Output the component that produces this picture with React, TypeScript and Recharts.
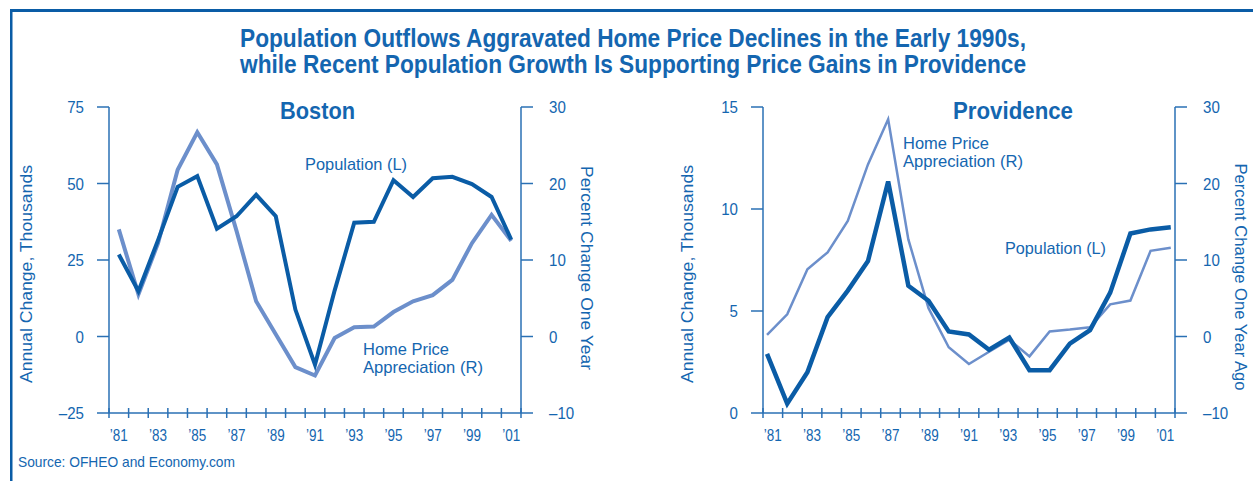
import React from "react";
import { LineChart, Line, XAxis, YAxis } from "recharts";

const FONT = "'Liberation Sans', Arial, Helvetica, sans-serif";
const TEXT = "#1466b0";
const AXIS = "#2a70b4";
const DARK = "#0a5ca6";
const LIGHT = "#6c8fcb";

// annual values, one per year '81 .. '01
const years = [1981, 1982, 1983, 1984, 1985, 1986, 1987, 1988, 1989, 1990, 1991, 1992, 1993, 1994, 1995, 1996, 1997, 1998, 1999, 2000, 2001];
const yearTicks = [1981, 1982, 1983, 1984, 1985, 1986, 1987, 1988, 1989, 1990, 1991, 1992, 1993, 1994, 1995, 1996, 1997, 1998, 1999, 2000, 2001, 2002];

// Boston: population change (thousands, left) and home price appreciation (%, right)
const bostonPopulation = [26.8, 14.8, 31.5, 48.9, 52.4, 35.2, 39.3, 46.3, 39.3, 8.8, -9.2, 15.0, 37.2, 37.5, 51.1, 45.6, 51.7, 52.2, 49.8, 45.6, 31.7];
const bostonHomePrice = [14.0, 5.5, 12.2, 21.8, 26.7, 22.5, 13.8, 4.6, 0.3, -4.0, -5.1, -0.2, 1.2, 1.3, 3.2, 4.6, 5.4, 7.4, 12.2, 15.9, 12.5];

// Providence
const provPopulation = [2.9, 0.46, 2.0, 4.7, 6.0, 7.45, 11.35, 6.24, 5.5, 4.0, 3.85, 3.1, 3.7, 2.1, 2.1, 3.4, 4.06, 5.9, 8.8, 9.0, 9.1];
const provHomePrice = [0.2, 2.9, 8.8, 11.0, 15.1, 22.5, 28.4, 12.7, 3.7, -1.4, -3.6, -2.0, -0.4, -2.6, 0.66, 0.9, 1.2, 4.2, 4.7, 11.2, 11.6];

const bostonLeftTicks = [-25, 0, 25, 50, 75];
const provLeftTicks = [0, 5, 10, 15];
const rightTicks = [-10, 0, 10, 20, 30];

const bostonData = years.map((year, i) => ({ year, population: bostonPopulation[i], homePrice: bostonHomePrice[i] }));
const provData = years.map((year, i) => ({ year, population: provPopulation[i], homePrice: provHomePrice[i] }));

const fmt = (v: number) => (v < 0 ? "\u2013" + Math.abs(v) : String(v));

function YearTick(props: any) {
  const { x, y, payload, step } = props;
  const yr = payload.value as number;
  return (
    <g>
      <line x1={x} x2={x} y1={y - 5} y2={y + 5} stroke={AXIS} strokeWidth={1.5} />
      {yr % 2 === 1 && yr < 2002 ? (
        <text x={x + step / 2} y={y + 28} textAnchor="middle" fill={TEXT} fontSize={17} fontFamily={FONT} textLength={18} lengthAdjust="spacingAndGlyphs">
          {"\u2019" + String(yr).slice(2)}
        </text>
      ) : null}
    </g>
  );
}

function ValueTick(props: any) {
  const { x, y, payload, textAnchor } = props;
  const label = fmt(payload.value);
  return (
    <text x={x} y={y} dy="0.36em" textAnchor={textAnchor} fill={TEXT} fontSize={17} fontFamily={FONT} textLength={label.length * 8.4} lengthAdjust="spacingAndGlyphs">
      {label}
    </text>
  );
}

interface PanelProps {
  data: any[];
  width: number;
  left: number;
  leftTicks: number[];
  dataDomain: [number, number];
  popWidth: number;
  priceWidth: number;
}

function Panel({ data, width, left, leftTicks, dataDomain, popWidth, priceWidth }: PanelProps) {
  // axes take 1px each, so margins are one less than the plot edges
  const margin = { top: 107, left: left - 1, right: width - left - 412 - 1, bottom: 67 };
  const step = 412 / 21;
  return (
    <LineChart width={width} height={481} data={data} margin={margin}>
      <XAxis
        xAxisId="frame"
        dataKey="year"
        type="number"
        domain={[1981, 2002]}
        ticks={yearTicks}
        interval={0}
        allowDataOverflow
        height={1}
        tickSize={0}
        tickMargin={0}
        tickLine={false}
        axisLine={{ stroke: AXIS, strokeWidth: 1.5 }}
        tick={(p: any) => <YearTick {...p} step={step} />}
      />
      <XAxis xAxisId="data" orientation="top" height={0} dataKey="year" type="number" domain={dataDomain} allowDataOverflow hide />
      <YAxis
        yAxisId="L"
        width={1}
        domain={[leftTicks[0], leftTicks[leftTicks.length - 1]]}
        ticks={leftTicks}
        interval={0}
        allowDataOverflow
        tickSize={12}
        tickMargin={13}
        tick={(p: any) => <ValueTick {...p} />}
        tickLine={{ stroke: AXIS, strokeWidth: 1.5 }}
        axisLine={{ stroke: AXIS, strokeWidth: 1.5 }}
      />
      <YAxis
        yAxisId="R"
        orientation="right"
        width={1}
        domain={[-10, 30]}
        ticks={rightTicks}
        interval={0}
        allowDataOverflow
        tickSize={12}
        tickMargin={16}
        tick={(p: any) => <ValueTick {...p} />}
        tickLine={{ stroke: AXIS, strokeWidth: 1.5 }}
        axisLine={{ stroke: AXIS, strokeWidth: 1.5 }}
      />
      <Line xAxisId="data" yAxisId="R" dataKey="homePrice" stroke={LIGHT} strokeWidth={priceWidth} dot={false} isAnimationActive={false} />
      <Line xAxisId="data" yAxisId="L" dataKey="population" stroke={DARK} strokeWidth={popWidth} dot={false} isAnimationActive={false} />
    </LineChart>
  );
}

function T({ x, y, w, size, children, bold, rotate }: any) {
  return (
    <text
      x={x}
      y={y}
      textLength={w}
      lengthAdjust="spacingAndGlyphs"
      fontSize={size}
      fontWeight={bold ? 700 : 400}
      fontFamily={FONT}
      fill={TEXT}
      textAnchor={rotate ? "middle" : "start"}
      transform={rotate ? `rotate(${rotate} ${x} ${y})` : undefined}
    >
      {children}
    </text>
  );
}

export default function App() {
  return (
    <div style={{ position: "absolute", left: 0, top: 0, width: 1253, height: 481, background: "#fff", overflow: "hidden" }}>
      <div style={{ position: "absolute", left: 0, top: 0 }}>
        <Panel data={bostonData} width={640} left={109} leftTicks={bostonLeftTicks} dataDomain={[1980.5, 2001.5]} popWidth={4} priceWidth={4} />
      </div>
      <div style={{ position: "absolute", left: 640, top: 0 }}>
        <Panel data={provData} width={613} left={123} leftTicks={provLeftTicks} dataDomain={[1980.8, 2001.21]} popWidth={4.5} priceWidth={2.5} />
      </div>
      <svg width={1253} height={481} style={{ position: "absolute", left: 0, top: 0, pointerEvents: "none" }}>
        <rect x={10} y={9} width={1243} height={3} fill={DARK} />
        <rect x={10} y={9} width={2.5} height={472} fill={DARK} />
        <T x={240} y={47} w={786} size={25} bold>Population Outflows Aggravated Home Price Declines in the Early 1990s,</T>
        <T x={240} y={73} w={786} size={25} bold>while Recent Population Growth Is Supporting Price Gains in Providence</T>
        <T x={280} y={119} w={75} size={24} bold>Boston</T>
        <T x={953} y={119} w={120} size={24} bold>Providence</T>
        <T x={305} y={170} w={102} size={17}>Population (L)</T>
        <T x={363} y={355} w={86} size={17}>Home Price</T>
        <T x={363} y={373} w={120} size={17}>Appreciation (R)</T>
        <T x={903} y={149} w={86} size={17}>Home Price</T>
        <T x={903} y={167} w={120} size={17}>Appreciation (R)</T>
        <T x={1005} y={254} w={101} size={17}>Population (L)</T>
        <T x={32} y={274} w={218} size={17} rotate={-90}>Annual Change, Thousands</T>
        <T x={693} y={274} w={218} size={17} rotate={-90}>Annual Change, Thousands</T>
        <T x={581} y={268} w={204} size={17} rotate={90}>Percent Change One Year</T>
        <T x={1235} y={277} w={227} size={17} rotate={90}>Percent Change One Year Ago</T>
        <T x={18} y={467} w={217} size={15}>Source: OFHEO and Economy.com</T>
      </svg>
    </div>
  );
}
